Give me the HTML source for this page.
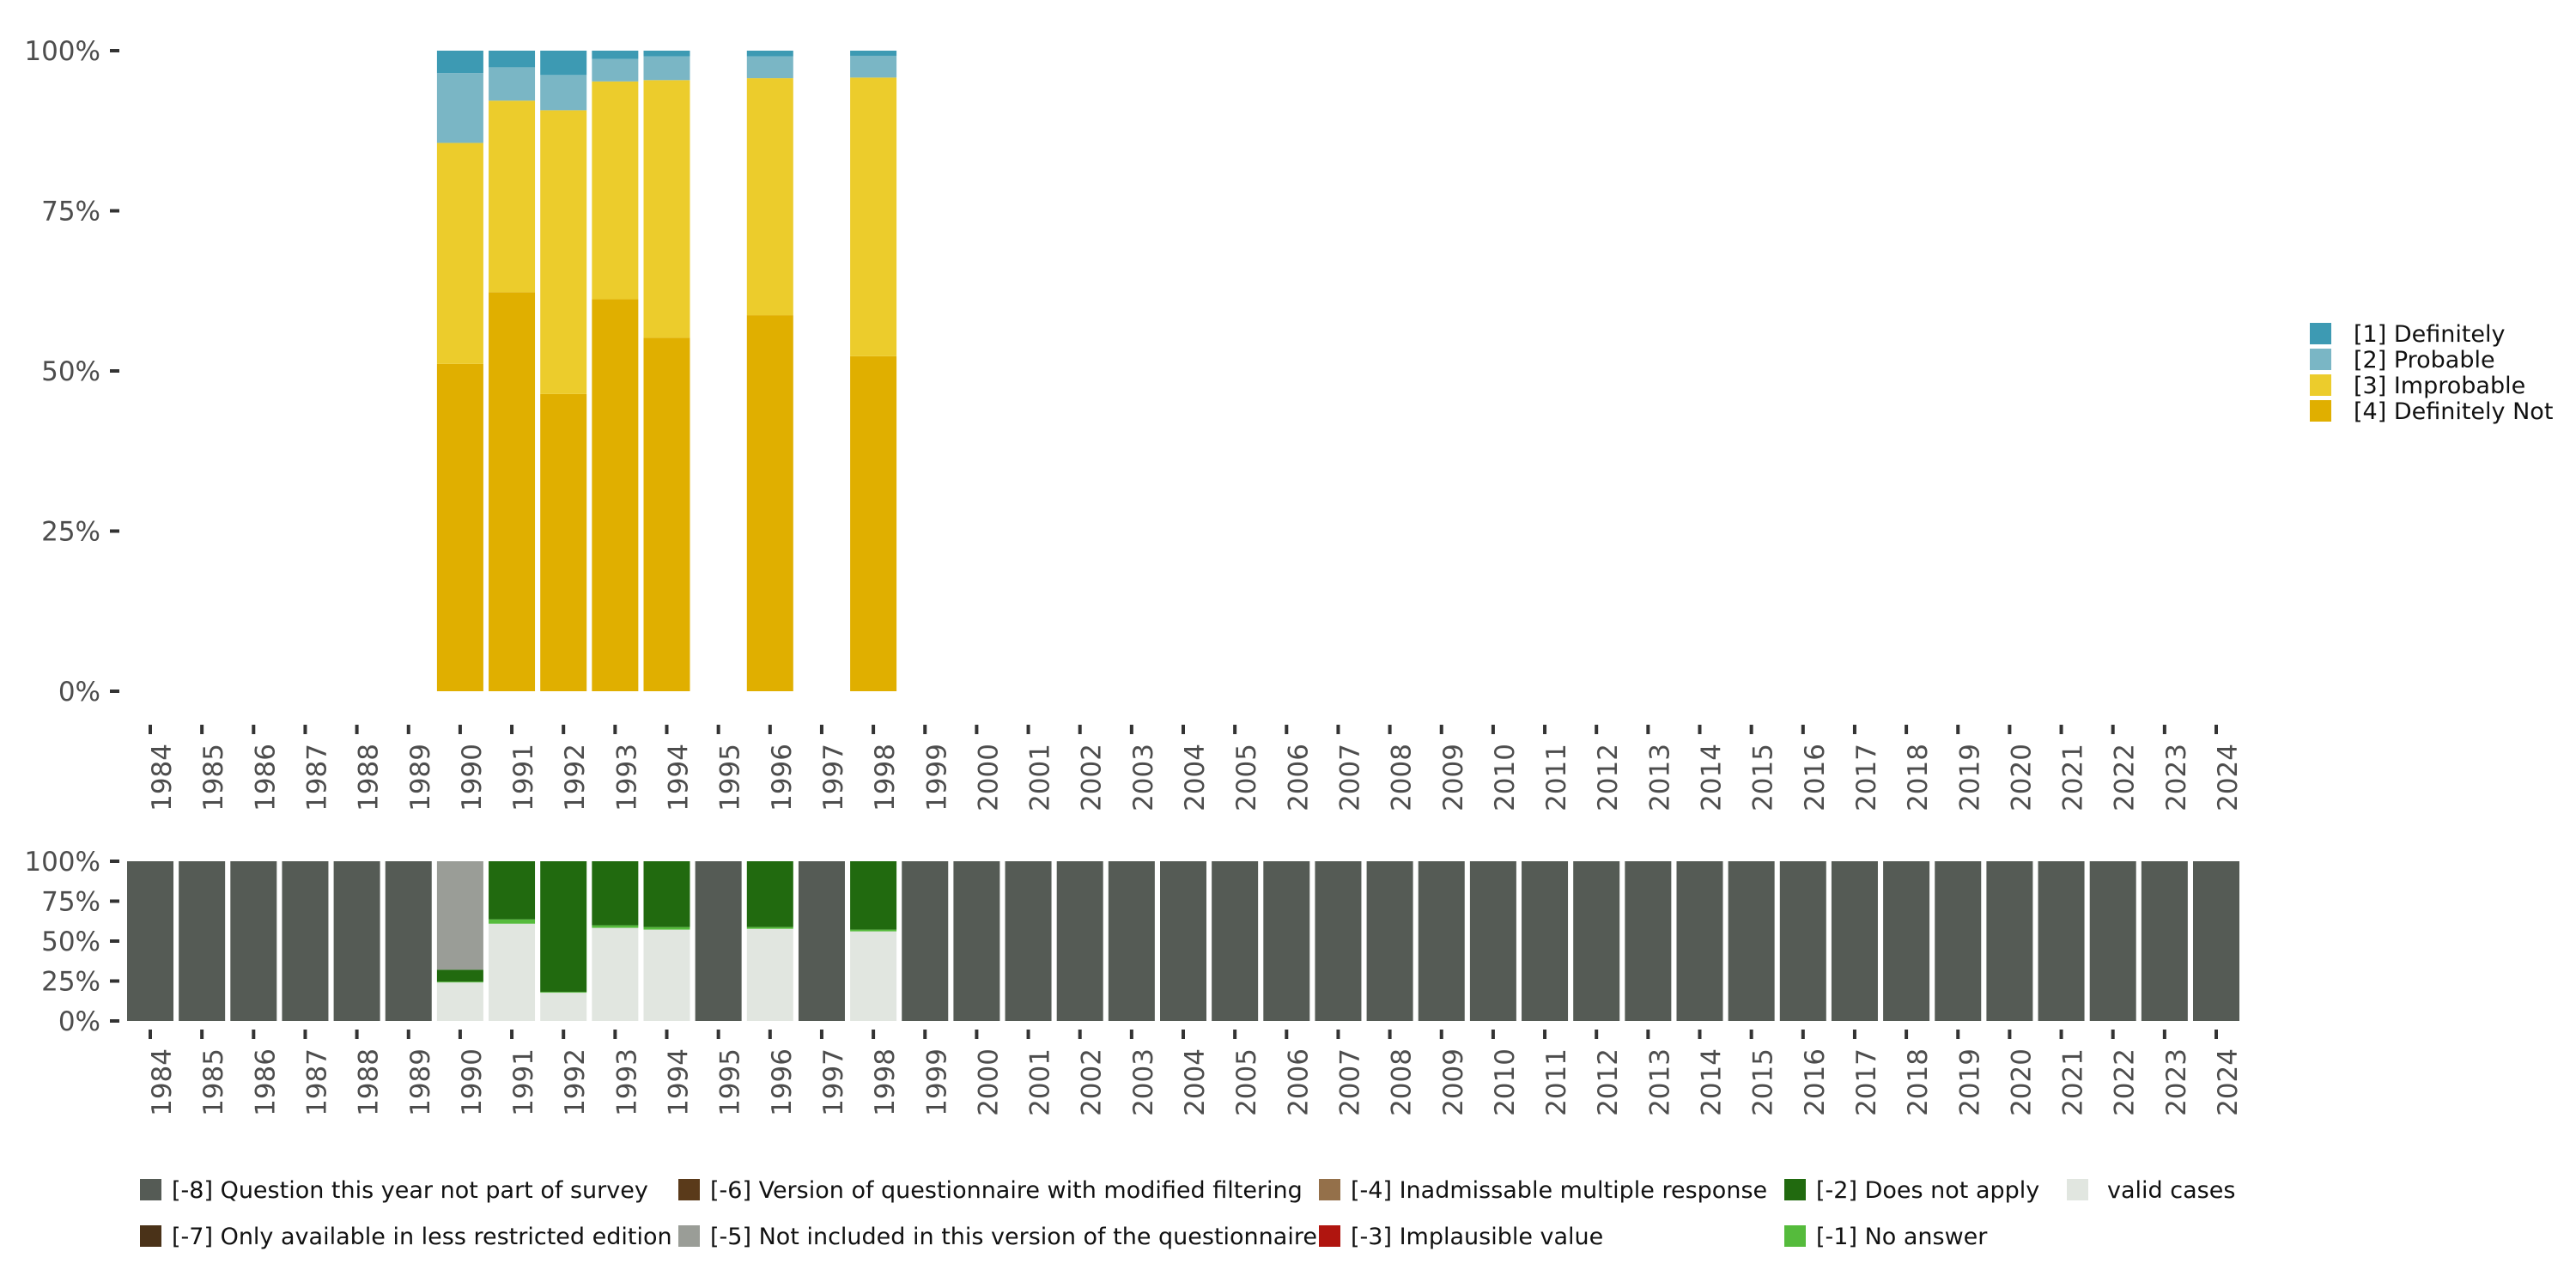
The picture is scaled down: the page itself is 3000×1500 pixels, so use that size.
<!DOCTYPE html>
<html><head><meta charset="utf-8"><style>
html,body{margin:0;padding:0;background:#fff;}
svg{display:block;font-family:"DejaVu Sans","Liberation Sans",sans-serif;}
</style></head><body>
<svg id="chart" xmlns="http://www.w3.org/2000/svg" width="3000" height="1500" viewBox="0 0 3000 1500">
<g id="top"></g>
<g id="bottom"></g>
<g id="legends"></g>
</svg>
<script>
const years = [];
for (let y = 1984; y <= 2024; y++) years.push(y);
const topYears = [1990, 1991, 1992, 1993, 1994, 1996, 1998];
const topDefinitely = [3.5, 2.6, 3.8, 1.3, 0.9, 0.9, 0.8];
const topProbable = [10.9, 5.2, 5.5, 3.5, 3.7, 3.4, 3.4];
const topImprobable = [34.5, 29.9, 44.3, 34.0, 40.2, 37.0, 43.5];
const topDefNot = [51.1, 62.3, 46.4, 61.2, 55.2, 58.7, 52.3];
const botValid = [24.1, 60.9, 17.7, 58.3, 57.2, 57.7, 56.1];
const botNoAnswer = [0.5, 2.7, 0.5, 1.6, 1.6, 1.1, 1.1];
const botNotApply = [7.5, 36.4, 81.8, 40.1, 41.2, 41.2, 42.8];
const botNotIncluded = [67.9, 0, 0, 0, 0, 0, 0];
const yTicks = [0, 25, 50, 75, 100];
const yTickLabels = ["0%", "25%", "50%", "75%", "100%"];

const NS = "http://www.w3.org/2000/svg";
function mk(tag, attrs, parent, text) {
  const e = document.createElementNS(NS, tag);
  for (const k in attrs) e.setAttribute(k, attrs[k]);
  if (text !== undefined) e.textContent = text;
  parent.appendChild(e);
  return e;
}
const x0 = 175, step = 60.15, bw = 54;
function xScale(year) { return x0 + (year - 1984) * step; }
function yTop(v) { return 805 - v * 7.46; }
function yBot(v) { return 1189 - v * 1.86; }

const topG = document.getElementById('top');
const botG = document.getElementById('bottom');
const legG = document.getElementById('legends');

function yAxis(g, ys, name) {
  yTicks.forEach((t, i) => {
    const tk = mk('rect', {x: 128, y: ys(t) - 2, width: 11, height: 4, fill: '#333'}, g);
    
    
    const lb = mk('text', {x: 117, y: ys(t) + 11, 'text-anchor': 'end', 'font-size': 31, fill: '#4d4d4d'}, g, yTickLabels[i]);
    
    
  });
}
function xAxis(g, tickY, labelY, name) {
  years.forEach(yr => {
    const x = xScale(yr);
    const tk = mk('rect', {x: x - 2, y: tickY, width: 4, height: 11, fill: '#333'}, g);
    
    
    const lb = mk('text', {x: x + 24, y: labelY, 'text-anchor': 'end', 'font-size': 31, fill: '#4d4d4d', transform: 'rotate(-90 ' + (x + 24) + ' ' + labelY + ')'}, g, String(yr));
    
    
  });
}
function stack(g, ys, x, segs, name) {
  let cum = 0;
  segs.forEach(s => {
    if (s.v <= 0) return;
    const r = mk('rect', {x: x - bw / 2, y: ys(cum + s.v), width: bw, height: ys(cum) - ys(cum + s.v), fill: s.c}, g);
    
    
    cum += s.v;
  });
}

yAxis(topG, yTop, 'top-y');
xAxis(topG, 844, 866, 'top-x');
topYears.forEach((yr, i) => {
  stack(topG, yTop, xScale(yr), [
    {v: topDefNot[i], c: '#e0af00', n: 'definitely-not'},
    {v: topImprobable[i], c: '#eccc2c', n: 'improbable'},
    {v: topProbable[i], c: '#7ab6c5', n: 'probable'},
    {v: topDefinitely[i], c: '#3d9ab3', n: 'definitely'}
  ], 'bar-' + yr);
});

yAxis(botG, yBot, 'bottom-y');
xAxis(botG, 1199, 1221, 'bottom-x');
years.forEach(yr => {
  const i = topYears.indexOf(yr);
  if (i < 0) {
    stack(botG, yBot, xScale(yr), [{v: 100, c: '#555b55', n: 'not-part'}], 'bar-' + yr);
  } else {
    stack(botG, yBot, xScale(yr), [
      {v: botValid[i], c: '#e1e6e0', n: 'valid'},
      {v: botNoAnswer[i], c: '#55bb3c', n: 'no-answer'},
      {v: botNotApply[i], c: '#216a0f', n: 'does-not-apply'},
      {v: botNotIncluded[i], c: '#9a9d97', n: 'not-included'}
    ], 'bar-' + yr);
  }
});

const rLeg = [['#3d9ab3','[1] Definitely'],['#7ab6c5','[2] Probable'],['#eccc2c','[3] Improbable'],['#e0af00','[4] Definitely Not']];
rLeg.forEach((l, i) => {
  const y = 376 + i * 30;
  const s = mk('rect', {x: 2690, y: y, width: 25, height: 25, fill: l[0]}, legG);
  
  
  const t = mk('text', {x: 2741, y: y + 22, 'font-size': 27, fill: '#111'}, legG, l[1]);
  
  
});
const bLeg = [
  [163, 0, '#555b55', '[-8] Question this year not part of survey'],
  [163, 1, '#4a3218', '[-7] Only available in less restricted edition'],
  [790, 0, '#5a3a1a', '[-6] Version of questionnaire with modified filtering'],
  [790, 1, '#9a9d97', '[-5] Not included in this version of the questionnaire'],
  [1536, 0, '#94704a', '[-4] Inadmissable multiple response'],
  [1536, 1, '#b0150f', '[-3] Implausible value'],
  [2078, 0, '#216a0f', '[-2] Does not apply'],
  [2078, 1, '#55bb3c', '[-1] No answer'],
  [2407, 0, '#e1e6e0', ' valid cases']
];
bLeg.forEach(l => {
  const y = 1373 + l[1] * 54;
  const s = mk('rect', {x: l[0], y: y, width: 25, height: 25, fill: l[2]}, legG);
  
  
  const t = mk('text', {x: l[0] + 37 + (l[3][0] === ' ' ? 10 : 0), y: y + 22, 'font-size': 27, fill: '#111'}, legG, l[3].trim());
  
  
});
</script>
</body></html>
